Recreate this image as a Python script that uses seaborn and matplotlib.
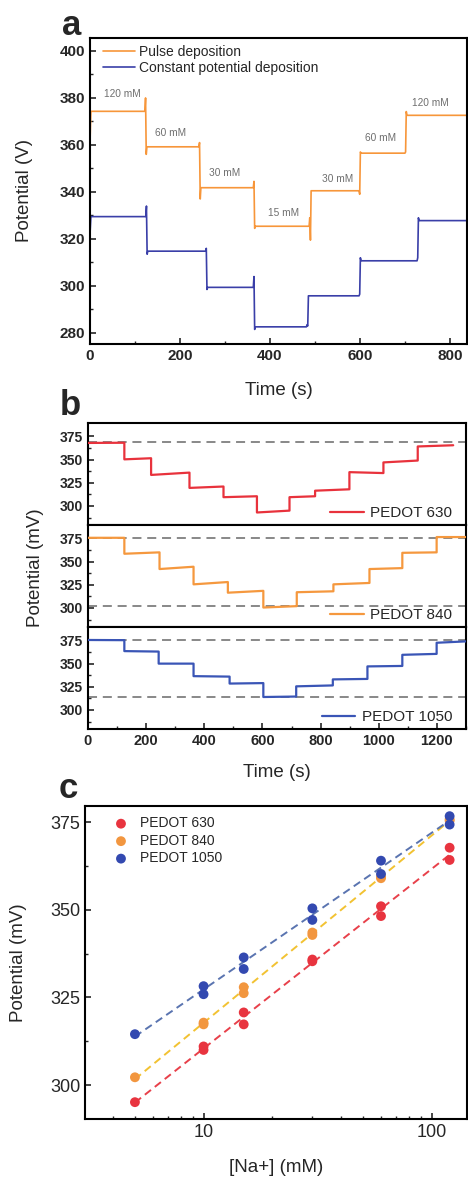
import numpy as np
import pandas as pd
import matplotlib
matplotlib.use("Agg")
import matplotlib.pyplot as plt
import seaborn as sns
from matplotlib.ticker import MultipleLocator, LogLocator, NullFormatter, FixedLocator, FixedFormatter

# ---------------- Panel a data ----------------
pulse_t0_value = 361.0
pulse_step_t = [122, 242, 363, 487, 598, 700]
pulse_levels = [374.3, 359.2, 341.8, 325.4, 340.5, 356.5, 372.6]
pulse_spike_a = [380.0, 361.0, 344.5, 329.0, 339.0, 357.0]
pulse_spike_b = [356.0, 337.0, 324.5, 319.5, 357.0, 374.2]

const_t0_value = 322.0
const_step_t = [124, 257, 363, 481, 598, 727]
const_levels = [329.5, 314.8, 299.4, 282.6, 295.8, 310.7, 327.8]
const_spike_a = [334.0, 316.0, 304.0, 283.5, 296.5, 312.0]
const_spike_b = [313.5, 298.5, 281.5, 283.0, 312.0, 329.0]
a_end_t = 840

conc_labels = ["120 mM", "60 mM", "30 mM", "15 mM", "30 mM", "60 mM", "120 mM"]
conc_label_t = [73, 178, 300, 430, 550, 646, 756]
conc_label_v = [381.5, 365.2, 348.0, 331.0, 345.5, 362.8, 377.7]

# ---------------- Panel b data ----------------
red_t = [0, 125, 217, 349, 466, 581, 693, 781, 899, 1016, 1134, 1256]
red_start = [368.0, 350.3, 333.5, 319.5, 309.5, 293.0, 309.5, 316.5, 336.5, 347.0, 364.2]
red_end = [368.2, 351.5, 336.0, 321.0, 310.5, 295.0, 310.5, 318.0, 335.5, 349.0, 365.5]

org_t = [0, 125, 246, 363, 481, 603, 718, 844, 968, 1081, 1199, 1300]
org_start = [375.7, 358.5, 342.0, 325.5, 316.5, 300.5, 317.0, 325.5, 342.0, 359.5, 376.5]
org_end = [375.7, 360.0, 344.5, 328.0, 318.5, 302.0, 318.0, 327.0, 343.0, 360.0, 376.5]

blu_t = [0, 125, 243, 363, 487, 603, 716, 842, 961, 1081, 1199, 1300]
blu_start = [375.5, 363.5, 350.0, 336.5, 328.5, 314.0, 325.5, 333.0, 347.0, 359.5, 372.5]
blu_end = [375.3, 363.0, 350.0, 336.0, 329.0, 314.5, 326.5, 333.5, 347.5, 360.5, 374.0]

ref_lines_b = [[369.0], [375.5, 302.5], [375.5, 314.0]]
b_names = ["PEDOT 630", "PEDOT 840", "PEDOT 1050"]

# ---------------- Panel c data ----------------
c_red_x = [5, 10, 10, 15, 15, 30, 30, 60, 60, 120, 120]
c_red_y = [295.1, 311.0, 310.0, 320.7, 317.3, 335.8, 335.3, 351.0, 348.2, 367.7, 364.2]
c_org_x = [5, 10, 10, 15, 15, 30, 30, 60, 60, 120, 120]
c_org_y = [302.2, 317.8, 317.3, 327.9, 326.2, 343.5, 342.8, 359.4, 359.0, 375.8, 375.4]
c_blu_x = [5, 10, 10, 15, 15, 30, 30, 60, 60, 120, 120]
c_blu_y = [314.5, 328.2, 325.9, 336.4, 333.1, 350.4, 347.1, 364.0, 360.2, 376.7, 374.3]

# colours
A_ORANGE = "#F7963A"
A_BLUE = "#3A3FA8"
B_RED = "#E8323C"
B_ORANGE = "#F5983E"
B_BLUE = "#3A55B6"
C_RED = "#E8343F"
C_ORANGE = "#F2963F"
C_BLUE = "#3349B0"
L_RED = "#E8404A"
L_GOLD = "#F2C232"
L_BLUE = "#5A74B0"

sns.set_theme(style="ticks")
plt.rcParams["font.family"] = ["Liberation Sans", "DejaVu Sans"]
plt.rcParams["axes.linewidth"] = 1.5
plt.rcParams["xtick.direction"] = "in"
plt.rcParams["ytick.direction"] = "in"


def step_trace(t0_val, steps, levels, sa, sb, t_end):
    ts = [0.0, 2.0]
    vs = [t0_val, levels[0]]
    for j, T in enumerate(steps):
        ts += [T, T + 1.5, T + 3.0, T + 4.5]
        vs += [levels[j], sa[j], sb[j], levels[j + 1]]
    ts.append(t_end)
    vs.append(levels[-1])
    return pd.DataFrame({"t": ts, "v": vs})


def plateau_trace(times, starts, ends):
    ts, vs = [], []
    for i in range(len(starts)):
        ts += [times[i], times[i + 1]]
        vs += [starts[i], ends[i]]
    return pd.DataFrame({"t": ts, "v": vs})


W, H = 468, 1178
fig = plt.figure(figsize=(W / 100, H / 100), dpi=100)


def ax_at(l, t, r, b):
    return fig.add_axes([l / W, 1 - b / H, (r - l) / W, (b - t) / H])


def style_ticks(ax, major=4, minor=2.2):
    ax.tick_params(which="major", length=major, width=1.2, top=False, right=False)
    ax.tick_params(which="minor", length=minor, width=1.0, top=False, right=False)
    for s in ax.spines.values():
        s.set_visible(True)
        s.set_linewidth(1.5)
        s.set_color("black")


# ---------------- Panel a ----------------
axA = ax_at(90, 38, 467, 344)
dfp = step_trace(pulse_t0_value, pulse_step_t, pulse_levels, pulse_spike_a, pulse_spike_b, a_end_t)
dfc = step_trace(const_t0_value, const_step_t, const_levels, const_spike_a, const_spike_b, a_end_t)
sns.lineplot(data=dfp, x="t", y="v", ax=axA, color=A_ORANGE, lw=1.2, sort=False,
             estimator=None, label="Pulse deposition")
sns.lineplot(data=dfc, x="t", y="v", ax=axA, color=A_BLUE, lw=1.2, sort=False,
             estimator=None, label="Constant potential deposition")
axA.set_xlim(0, 838)
axA.set_ylim(275.3, 405.5)
axA.xaxis.set_major_locator(MultipleLocator(200))
axA.xaxis.set_minor_locator(MultipleLocator(100))
axA.yaxis.set_major_locator(MultipleLocator(20))
axA.yaxis.set_minor_locator(MultipleLocator(10))
style_ticks(axA)
for lab in axA.get_xticklabels() + axA.get_yticklabels():
    lab.set_fontweight("bold")
    lab.set_fontsize(11)
axA.set_xlabel("Time (s)", fontsize=13.5)
axA.set_ylabel("Potential (V)", fontsize=13.5)
axA.xaxis.set_label_coords(0.5, -0.124)
axA.yaxis.set_label_coords(-0.151, 0.5)
for lab, t, v in zip(conc_labels, conc_label_t, conc_label_v):
    axA.text(t, v, lab, fontsize=7.3, color="#6E6E6E", ha="center", va="center")
axA.legend(loc="upper left", bbox_to_anchor=(0.034, 0.978), frameon=False, fontsize=10,
           handlelength=2.3, handletextpad=0.3, labelspacing=0.18, borderpad=0, borderaxespad=0)

# ---------------- Panel b ----------------
b_traces = [(red_t, red_start, red_end, B_RED),
            (org_t, org_start, org_end, B_ORANGE),
            (blu_t, blu_start, blu_end, B_BLUE)]
axB = []
for i, (tt, st, en, col) in enumerate(b_traces):
    ax = ax_at(88, 423 + i * 102, 466, 423 + (i + 1) * 102)
    axB.append(ax)
    for yv in ref_lines_b[i]:
        ax.axhline(yv, color="#7F7F7F", lw=1.3, dashes=(5, 3.2), zorder=1)
    dfb = plateau_trace(tt, st, en)
    sns.lineplot(data=dfb, x="t", y="v", ax=ax, color=col, lw=1.6, sort=False,
                 estimator=None, label=b_names[i], zorder=3)
    ax.set_xlim(0, 1300)
    ax.set_ylim(279.5, 389.5)
    ax.yaxis.set_major_locator(FixedLocator([300, 325, 350, 375]))
    ax.yaxis.set_minor_locator(FixedLocator([287.5, 312.5, 337.5, 362.5]))
    ax.xaxis.set_major_locator(MultipleLocator(200))
    ax.xaxis.set_minor_locator(MultipleLocator(100))
    style_ticks(ax)
    ax.set_ylabel("")
    ax.set_xlabel("")
    for lab in ax.get_yticklabels():
        lab.set_fontweight("bold")
        lab.set_fontsize(10)
    if i < 2:
        ax.tick_params(axis="x", which="both", bottom=False, labelbottom=False)
    else:
        for lab in ax.get_xticklabels():
            lab.set_fontweight("bold")
            lab.set_fontsize(10.5)
    ax.legend(loc="lower right", bbox_to_anchor=(0.963, 0.05), frameon=False, fontsize=11,
              handlelength=2.2, handletextpad=0.4, borderpad=0, borderaxespad=0)
axB[2].set_xlabel("Time (s)", fontsize=13.5)
axB[2].xaxis.set_label_coords(0.5, -0.345)
fig.text(36 / W, 1 - 568 / H, "Potential (mV)", rotation=90, fontsize=13.5,
         ha="center", va="center")

# ---------------- Panel c ----------------
axC = ax_at(85, 806, 467, 1119)
c_series = [(c_red_x, c_red_y, C_RED, L_RED, "PEDOT 630"),
            (c_org_x, c_org_y, C_ORANGE, L_GOLD, "PEDOT 840"),
            (c_blu_x, c_blu_y, C_BLUE, L_BLUE, "PEDOT 1050")]
for xs, ys, mc, lc, name in c_series:
    dfc3 = pd.DataFrame({"x": xs, "y": ys})
    sns.regplot(data=dfc3, x="x", y="y", ax=axC, logx=True, scatter=False, ci=None,
                line_kws=dict(color=lc, lw=1.4, dashes=(4, 2.5), zorder=2))
for xs, ys, mc, lc, name in c_series:
    dfc3 = pd.DataFrame({"x": xs, "y": ys})
    sns.scatterplot(data=dfc3, x="x", y="y", ax=axC, color=mc, s=50, edgecolor="none",
                    label=name, zorder=3)
axC.set_xscale("log")
axC.set_xlim(3.02, 143)
axC.set_ylim(290.3, 379.6)
axC.xaxis.set_major_locator(FixedLocator([10, 100]))
axC.xaxis.set_major_formatter(FixedFormatter(["10", "100"]))
axC.xaxis.set_minor_locator(LogLocator(base=10, subs=np.arange(2, 10), numticks=20))
axC.xaxis.set_minor_formatter(NullFormatter())
axC.yaxis.set_major_locator(FixedLocator([300, 325, 350, 375]))
axC.yaxis.set_minor_locator(FixedLocator([312.5, 337.5, 362.5]))
style_ticks(axC, major=4.5, minor=2.5)
for lab in axC.get_xticklabels() + axC.get_yticklabels():
    lab.set_fontsize(13)
axC.set_xlabel("[Na+] (mM)", fontsize=13.5)
axC.set_ylabel("Potential (mV)", fontsize=13.5)
axC.xaxis.set_label_coords(0.5, -0.128)
axC.yaxis.set_label_coords((27 - 85) / 382, 0.5)
axC.legend(loc="upper left", bbox_to_anchor=(0.076, 0.967), frameon=False, fontsize=10,
           handlelength=1.0, handletextpad=0.9, labelspacing=0.25, borderpad=0, borderaxespad=0)

# panel letters
for letter, x, yb in [("a", 71.5, 35), ("b", 70, 415), ("c", 68, 798)]:
    fig.text(x / W, 1 - yb / H, letter, fontsize=25, fontweight="bold", ha="center", va="baseline")

fig.savefig("out.png", dpi=100)
